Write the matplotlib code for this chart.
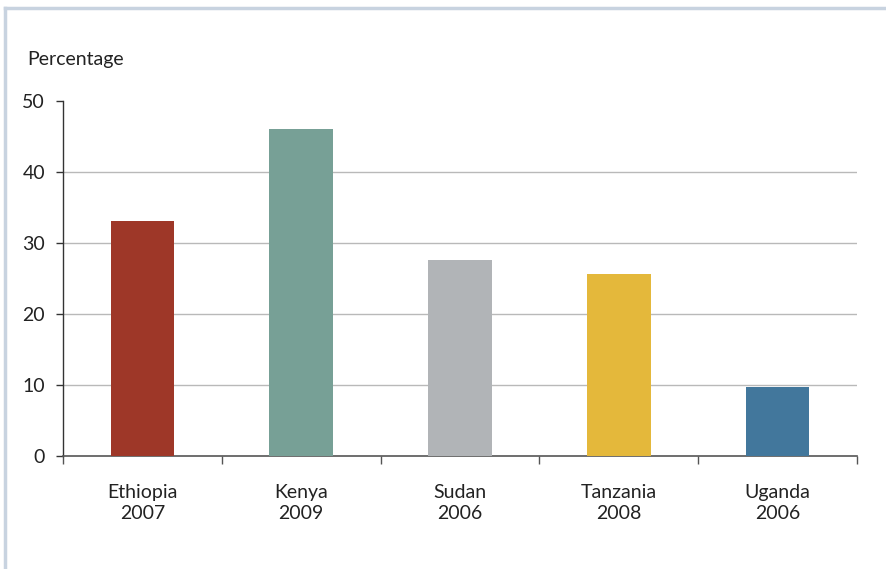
import numpy as np
import matplotlib
matplotlib.use('Agg')
import matplotlib.pyplot as plt
from matplotlib.lines import Line2D

# Data
countries = ['Ethiopia\n2007', 'Kenya\n2009', 'Sudan\n2006', 'Tanzania\n2008', 'Uganda\n2006']
values = [33.1, 46.1, 27.6, 25.6, 9.7]
colors = ['#9e3728', '#77a096', '#b1b4b7', '#e4b83b', '#42779c']
yticks = [0, 10, 20, 30, 40, 50]

plt.rcParams['font.family'] = ['Lato', 'DejaVu Sans']

W, H = 886, 569
fig = plt.figure(figsize=(W / 100, H / 100), dpi=100)
ax = fig.add_axes([63 / W, 1 - 456 / H, (857 - 63) / W, (456 - 101) / H])

x = np.arange(len(countries))
ax.bar(x, values, width=0.4, color=colors, zorder=3)

ax.set_xlim(-0.5, len(countries) - 0.5)
ax.set_ylim(0, 50)

# horizontal guide lines (not at 0 or 50)
for y in yticks[1:-1]:
    ax.axhline(y, color='#b9b9b9', linewidth=1.0, zorder=1)

ax.set_yticks(yticks)
ax.set_yticklabels([str(v) for v in yticks], fontsize=14, color='#222222')
ax.tick_params(axis='y', direction='out', length=5, width=1, color='#333333', pad=8)

# category boundary ticks on x axis
ax.set_xticks(np.arange(-0.5, len(countries), 1.0))
ax.set_xticklabels([])
ax.tick_params(axis='x', direction='out', length=6, width=1, color='#555555')
for xi, lab in zip(x, countries):
    ax.text(xi, -3.9, lab, ha='center', va='top', fontsize=14,
            color='#222222', linespacing=1.3)

for side in ['top', 'right']:
    ax.spines[side].set_visible(False)
ax.spines['left'].set_color('#333333')
ax.spines['bottom'].set_color('#555555')
ax.spines['left'].set_linewidth(1.0)
ax.spines['bottom'].set_linewidth(1.2)

fig.text(27 / W, 1 - 60 / H, 'Percentage', ha='left', va='center',
         fontsize=14, color='#222222')

# light frame at top and left
frame_col = '#c8d3e0'
fig.add_artist(Line2D([5 / W, 1], [1 - 8 / H, 1 - 8 / H], color=frame_col,
                      linewidth=2.5, transform=fig.transFigure))
fig.add_artist(Line2D([5 / W, 5 / W], [0, 1 - 8 / H], color=frame_col,
                      linewidth=2.5, transform=fig.transFigure))

fig.savefig('out.png', dpi=100, facecolor='white')
